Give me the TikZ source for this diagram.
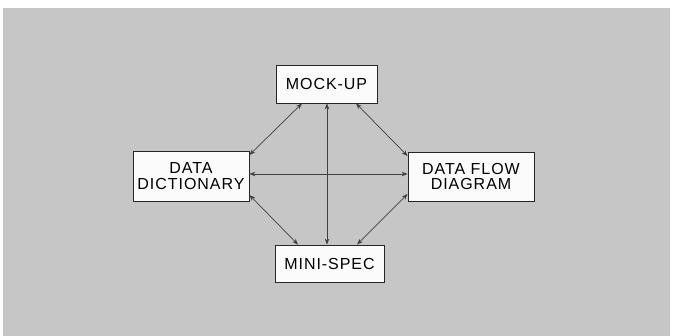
\documentclass[tikz,border=0pt]{standalone}
\usepackage{fontspec}
\setmainfont{Liberation Sans}[LetterSpace=6]
\usetikzlibrary{arrows.meta}
\begin{document}
\begin{tikzpicture}[x=1pt,y=-1pt,
  box/.style={draw=black!85,line width=0.8pt,fill=white!97!gray,inner sep=0pt,align=center,
    font=\fontsize{16}{15.8}\selectfont,text=black},
  arr/.style={draw=black!75,line width=0.7pt,{Stealth[length=6pt,width=4.5pt]}-{Stealth[length=6pt,width=4.5pt]}}]
\useasboundingbox (0,0) rectangle (678,336);
\fill[white] (0,0) rectangle (678,336);
\fill[gray!45!white] (3,8) rectangle (670,336);
\node[box,minimum width=101pt,minimum height=38pt] (mock) at (326.5,84) {MOCK-UP};
\node[box,minimum width=116pt,minimum height=50pt] (dd) at (191,176) {DATA\\DICTIONARY};
\node[box,minimum width=126pt,minimum height=49pt] (dfd) at (471,176.5) {DATA FLOW\\DIAGRAM};
\node[box,minimum width=109pt,minimum height=37pt] (mini) at (329.5,263.5) {MINI-SPEC};
\draw[arr] ([xshift=-24.5pt]mock.south) -- ([yshift=21pt]dd.east);
\draw[arr] ([xshift=29.5pt]mock.south) -- ([yshift=20.5pt]dfd.west);
\draw[arr] ([yshift=-19pt]dd.east) -- ([xshift=-31.5pt]mini.north);
\draw[arr] ([yshift=-17.5pt]dfd.west) -- ([xshift=27.5pt]mini.north);
\draw[arr] ([yshift=2pt]dd.east) -- ([yshift=2.5pt]dfd.west);
\draw[arr] ([xshift=0.5pt]mock.south) -- ([xshift=-2.5pt]mini.north);
\end{tikzpicture}
\end{document}
